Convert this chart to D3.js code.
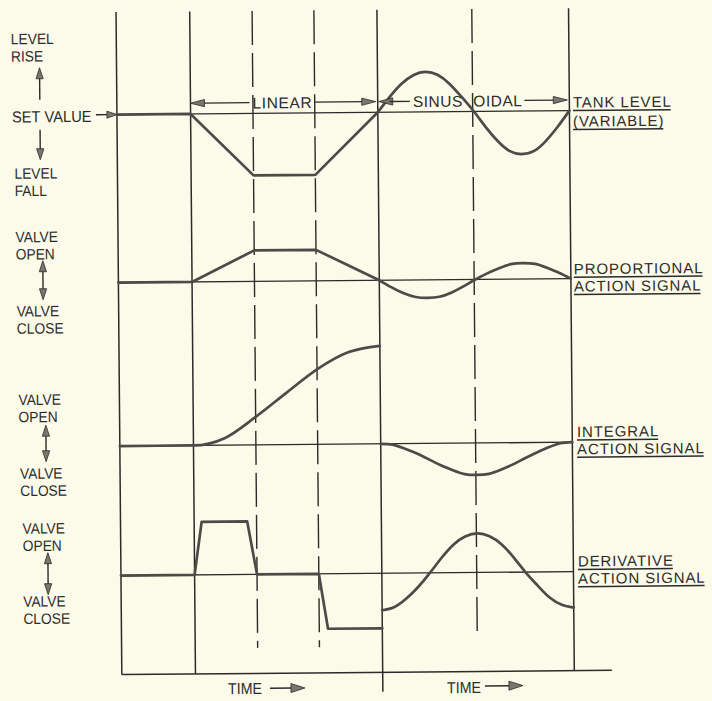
<!DOCTYPE html>
<html><head><meta charset="utf-8">
<script src="https://cdn.jsdelivr.net/npm/d3@7"></script>
<style>body{margin:0;background:#fcfae9;}svg{display:block}</style>
</head><body>
<script>
// ---------------- DATA ----------------
const boundaryTimes = [0, 1.18, 4.18, 7.25];        // solid time boundaries
const dashedTimes   = [2.18, 3.17, 5.70];           // dashed reference times
const linearTime    = [0, 1.18, 2.18, 3.17, 4.18];
const tankLinear    = [0, 0, -62, -62, 0];
const propLinear    = [0, 0, 31, 31, 0];
const integTime     = [0, 1.18, 1.68, 2.18, 2.68, 3.17, 3.68, 4.18];
const integLinear   = [0, 0, 7, 28, 52, 75, 92, 98];
const derivTime     = [0, 1.18, 1.30, 2.03, 2.18, 3.17, 3.31, 4.18];
const derivLinear   = [0, 0, 53, 53, 0, 0, -55, -55];
const sineTime  = [4.18, 4.37, 4.56, 4.76, 4.95, 5.14, 5.33, 5.52, 5.72, 5.91, 6.10, 6.29, 6.48, 6.68, 6.87, 7.06, 7.25];
const tankSine  = [0, 15, 28, 37, 40, 37, 28, 15, 0, -16, -30, -40, -43, -40, -30, -16, 0];
const propSine  = [0, -7, -13, -17, -18, -17, -13, -7, 0, 6, 11, 15, 16, 15, 11, 6, 0];
const integSine = [0, -1, -5, -10, -16, -22, -27, -31, -32, -31, -27, -22, -16, -10, -5, -1, 0];
const derivSine = [-37, -34, -26, -14, 0, 15, 28, 36, 39, 36, 28, 15, 0, -14, -26, -33, -36];
const rightLabels = [["TANK LEVEL", "(VARIABLE)"], ["PROPORTIONAL", "ACTION SIGNAL"], ["INTEGRAL", "ACTION SIGNAL"], ["DERIVATIVE", "ACTION SIGNAL"]];
const leftTop    = [["LEVEL", "RISE"], ["VALVE", "OPEN"], ["VALVE", "OPEN"], ["VALVE", "OPEN"]];
const leftBottom = [["LEVEL", "FALL"], ["VALVE", "CLOSE"], ["VALVE", "CLOSE"], ["VALVE", "CLOSE"]];
const setValueLabel = "SET VALUE";
const sectionLabels = ["LINEAR", ["SINUS", "OIDAL"]];
const timeLabel = "TIME";

// ---------------- LAYOUT ----------------
const W = 712, H = 701;
const INK = "#2b2b2a", CURVE = "#4b4b48", HEAD = "#77766f", TXT = "#2c2c2b";
const FONT = "'Liberation Sans', Arial, sans-serif";
const svg = d3.select("body").append("svg").attr("width", W).attr("height", H);
svg.append("rect").attr("width", W).attr("height", H).attr("fill", "#fcfae9");
const g = svg.append("g").attr("transform", "rotate(-0.5 356 350)");

const x = d3.scaleLinear().domain([0, 7.25]).range([119, 571.5]);
const baselines = [112.5, 280.5, 444, 573.5];
const yS = baselines.map(b => d3.scaleLinear().domain([-100, 100]).range([b + 100, b - 100]));
const TOP = 10, BOTTOM = 672.5;

function head(tx, ty, dir, len, hw) {
  const u = {l: [-1, 0], r: [1, 0], u: [0, -1], d: [0, 1]}[dir];
  const bx = tx - u[0] * len, by = ty - u[1] * len;
  const px = -u[1], py = u[0];
  g.append("polygon")
    .attr("points", [[tx, ty], [bx + px * hw, by + py * hw], [bx - px * hw, by - py * hw]].map(p => p.join(",")).join(" "))
    .attr("fill", HEAD).attr("stroke", INK).attr("stroke-width", 0.8).attr("stroke-linejoin", "round");
}
function seg(x1, y1, x2, y2, w) {
  return g.append("line").attr("x1", x1).attr("y1", y1).attr("x2", x2).attr("y2", y2)
    .attr("stroke", INK).attr("stroke-width", w || 1.4);
}
function txt(s, tx, ty, size, ls, sx) {
  return g.append("text").attr("transform", `translate(${tx},${ty}) scale(${sx || 1},1)`).text(s)
    .attr("font-family", FONT).attr("font-size", size).attr("fill", TXT)
    .attr("letter-spacing", ls || 0);
}
// two-line label as one text block (tspans); keeps the reference mid-line, gap at least minGap
const MINGAP = 17.3;
function txt2(lines, tx, ty, refGap, size, ls, sx) {
  const gap = Math.max(refGap, MINGAP);
  const y0 = ty + (refGap - gap) / 2;
  const t = g.append("text").attr("transform", `translate(${tx},${y0}) scale(${sx || 1},1)`)
    .attr("font-family", FONT).attr("font-size", size).attr("fill", TXT).attr("letter-spacing", ls || 0);
  const spans = lines.map((s, i) => t.append("tspan").attr("x", 0).attr("y", i * gap).text(s));
  return {t, spans, y0, gap};
}

// solid verticals
const vBottoms = [BOTTOM, BOTTOM, 692, BOTTOM];
boundaryTimes.forEach((t, i) => seg(x(t), TOP, x(t), vBottoms[i], 1.5));
// dashed verticals
const dBottoms = [647, 647, 636];
dashedTimes.forEach((t, i) => seg(x(t), TOP, x(t), dBottoms[i], 1.4).attr("stroke-dasharray", "34,8"));
// bottom line
seg(x(0), BOTTOM, 609, BOTTOM, 1.5);
// baselines
baselines.forEach(b => seg(x(0), b, x(7.25), b, 1.4));

// curves
function curve(ts, vs, p, c) {
  const line = d3.line().x((d, i) => x(ts[i])).y(d => yS[p](d)).curve(c || d3.curveLinear);
  g.append("path").attr("d", line(vs)).attr("fill", "none").attr("stroke", CURVE)
    .attr("stroke-width", 2.7).attr("stroke-linejoin", "round").attr("stroke-linecap", "round");
}
curve(linearTime, tankLinear, 0);
curve(linearTime, propLinear, 1);
curve(integTime, integLinear, 2, d3.curveMonotoneX);
curve(derivTime, derivLinear, 3);
curve(sineTime, tankSine, 0, d3.curveNatural);
curve(sineTime, propSine, 1, d3.curveNatural);
curve(sineTime, integSine, 2, d3.curveNatural);
curve(sineTime, derivSine, 3, d3.curveNatural);

// section dimension arrows
const annY = 101.8;
const t1 = g.append("text").attr("x", 284.5).attr("y", annY + 5.8).attr("text-anchor", "middle")
  .attr("font-family", FONT).attr("font-size", 15.5).attr("letter-spacing", 0.6).attr("fill", TXT).text(sectionLabels[0]);
const t2 = g.append("text").attr("y", annY + 5.8).attr("font-family", FONT).attr("font-size", 15.5)
  .attr("letter-spacing", 0.5).attr("fill", TXT);
t2.append("tspan").attr("x", 415).text(sectionLabels[1][0]);
t2.append("tspan").attr("x", 475).text(" " + sectionLabels[1][1]).attr("dx", -4.3);
const b1 = t1.node().getBBox(), b2 = t2.node().getBBox();
seg(x(1.18) + 12, annY, b1.x - 3, annY, 1.3);
head(x(1.18), annY, "l", 14, 3.6);
seg(b1.x + b1.width + 2, annY, x(4.18) - 12, annY, 1.3);
head(x(4.18) - 2, annY, "r", 14, 3.6);
head(x(4.18) + 1, annY, "l", 14, 3.6);
seg(x(4.18) + 12, annY, b2.x - 3, annY, 1.3);
seg(b2.x + b2.width + 2, annY, x(7.25) - 12, annY, 1.3);
head(x(7.25) - 2, annY, "r", 14, 3.6);

// set value arrow
txt(setValueLabel, 14, 119.5, 16, 0, 0.92);
seg(98, baselines[0], x(0) - 8, baselines[0], 1.4);
head(x(0), baselines[0], "r", 10, 3.5);

// left labels
const LS = 15, LSX = 0.92;
const leftTopPos = [[13.5, 42.5, 15], [16.5, 240, 16], [18, 402.5, 16.5], [21, 532, 15]];
const leftBotPos = [[16, 177, 15], [17, 315, 14.5], [19, 477, 15], [21, 605, 15]];
leftTop.forEach((lines, i) => {
  const [lx, y1, gap] = leftTopPos[i];
  txt2(lines, lx, y1, gap, LS, 0, LSX);
});
leftBottom.forEach((lines, i) => {
  const [lx, y1, gap] = leftBotPos[i];
  txt2(lines, lx, y1, gap, LS, 0, LSX);
});
// level rise / fall arrows
seg(42, 97, 42, 74, 1.4); head(42, 65, "u", 11, 3.6);
seg(42, 127, 42, 148, 1.4); head(42, 157, "d", 11, 3.6);
// valve double arrows
const dbl = [[43.6, 258, 297], [45.2, 422.5, 459], [46.1, 550, 592]];
dbl.forEach(([ax, ya, yb]) => {
  seg(ax, ya + 9, ax, yb - 9, 1.4);
  head(ax, ya, "u", 11, 3.6); head(ax, yb, "d", 11, 3.6);
});

// right labels with underlines
const rightPos = [[575, 109.5, 19], [574.4, 277, 15.5], [576.2, 440, 15], [576, 569, 16]];
rightLabels.forEach((lines, i) => {
  const [rx, y1, refGap] = rightPos[i];
  const {spans, y0, gap} = txt2(lines, rx, y1, refGap, 15, 0.9, 1);
  spans.forEach((sp, k) => {
    const w = sp.node().getComputedTextLength();
    const yy = y0 + k * gap + 3;
    seg(rx, yy, rx + w - 1, yy, 1.5);
  });
});

// time labels
[[225, 693, 267, 302, 687.5], [444, 694, 482, 520, 687]].forEach(([tx, ty, a1, a2, ay]) => {
  txt(timeLabel, tx, ty, 16, 0, 0.89);
  seg(a1, ay, a2 - 10, ay, 1.5);
  head(a2, ay, "r", 14, 4.5);
});
</script>
</body></html>
